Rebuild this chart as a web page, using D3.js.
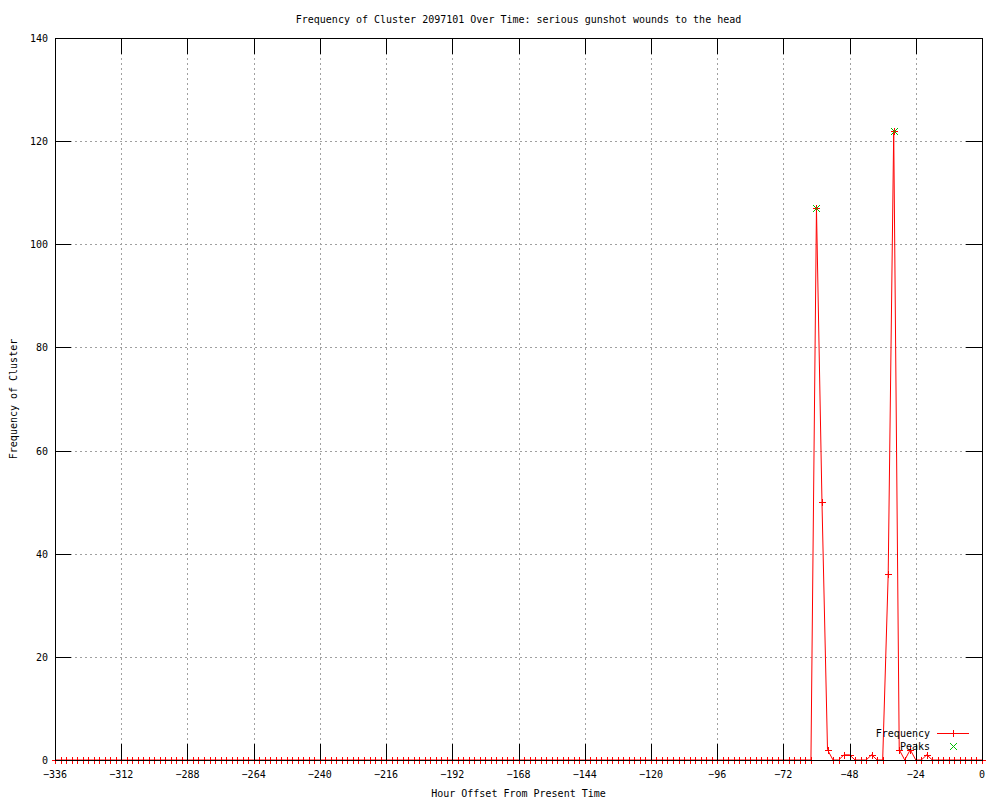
<!DOCTYPE html>
<html>
<head>
<meta charset="utf-8">
<script src="https://cdn.jsdelivr.net/npm/d3@7"></script>
<style>
    body { margin: 0; background: #fff; }
    svg { display: block; }
    text { font-family: "DejaVu Sans Mono", "Liberation Mono", monospace; font-size: 10px; fill: #000; }
</style>
</head>
<body>
<div id="chart"></div>
<script>
// hourly offsets sampled every 2 hours
const hours = d3.range(-336, 1, 2);

// cluster frequency per sample, -336 .. 0
const freq = [
    0,0,0,0,0,0,0,0,0,0,0,0,0,0,0,0,0,0,0,0,
    0,0,0,0,0,0,0,0,0,0,0,0,0,0,0,0,0,0,0,0,
    0,0,0,0,0,0,0,0,0,0,0,0,0,0,0,0,0,0,0,0,
    0,0,0,0,0,0,0,0,0,0,0,0,0,0,0,0,0,0,0,0,
    0,0,0,0,0,0,0,0,0,0,0,0,0,0,0,0,0,0,0,0,
    0,0,0,0,0,0,0,0,0,0,0,0,0,0,0,0,0,0,0,0,
    0,0,0,0,0,0,0,0,0,0,0,0,0,0,0,0,0,
    0,107,50,2,0,0,1,1,0,0,0,1,0,0,36,122,2,0,2,0,0,1,
    0,0,0,0,0,0,0,0,0,0
];

const peakHours = [-60, -32];
const peakValues = [107, 122];

const xTicks = d3.range(-336, 1, 24);
const yTicks = [0, 20, 40, 60, 80, 100, 120, 140];

const RED = '#ff0000';
const GREEN = '#00c000';

const width = 1000, height = 800;
const margin = { left: 55, right: 18, top: 38, bottom: 40 };
const tickLen = 16;

const svg = d3.select('#chart').append('svg')
    .attr('width', width)
    .attr('height', height);

const x = d3.scaleLinear().domain([-336, 0]).range([margin.left, width - margin.right]);
const y = d3.scaleLinear().domain([0, 140]).range([height - margin.bottom, margin.top]);

const [x0, x1] = x.range();
const [y0, y1] = y.range();

// grid
const grid = svg.append('g')
    .attr('shape-rendering', 'crispEdges');

grid.selectAll('line.gx')
    .data(xTicks.slice(1, -1))
    .enter().append('line')
    .attr('stroke', '#a0a0a0')
    .attr('stroke-dasharray', '2,3')
    .attr('x1', d => Math.round(x(d)) + 0.5).attr('x2', d => Math.round(x(d)) + 0.5)
    .attr('y1', y1).attr('y2', y0);

grid.selectAll('line.gy')
    .data(yTicks.slice(1, -1))
    .enter().append('line')
    .attr('stroke', '#a0a0a0')
    .attr('stroke-dasharray', '2,3')
    .attr('x1', x0).attr('x2', x1)
    .attr('y1', d => Math.round(y(d)) + 0.5).attr('y2', d => Math.round(y(d)) + 0.5);

// frequency line and + markers
const points = hours.map((h, i) => [h, freq[i]]);

svg.append('path')
    .datum(points)
    .attr('fill', 'none')
    .attr('stroke', RED)
    .attr('stroke-width', 1)
    .attr('d', d3.line().x(d => x(d[0])).y(d => y(d[1])));

function plus(g, cx, cy, r, color) {
    g.append('path')
        .attr('fill', 'none')
        .attr('stroke', color)
        .attr('shape-rendering', 'crispEdges')
        .attr('d', `M${cx - r},${cy}H${cx + r}M${cx},${cy - r}V${cy + r}`);
}
function cross(g, cx, cy, r, color) {
    g.append('path')
        .attr('fill', 'none')
        .attr('stroke', color)
        .attr('d', `M${cx - r},${cy - r}L${cx + r},${cy + r}M${cx - r},${cy + r}L${cx + r},${cy - r}`);
}

const marks = svg.append('g');
points.forEach(d => plus(marks, Math.round(x(d[0])) + 0.5, Math.round(y(d[1])) + 0.5, 3.5, RED));

// border and ticks
const axes = svg.append('g')
    .attr('shape-rendering', 'crispEdges');

axes.append('rect')
    .attr('x', x0 + 0.5).attr('y', y1 + 0.5)
    .attr('width', x1 - x0).attr('height', y0 - y1)
    .attr('stroke', '#000')
    .attr('fill', 'none');

xTicks.forEach(t => {
    const px = Math.round(x(t)) + 0.5;
    axes.append('line').attr('stroke', '#000').attr('x1', px).attr('x2', px).attr('y1', y0).attr('y2', y0 - tickLen);
    axes.append('line').attr('stroke', '#000').attr('x1', px).attr('x2', px).attr('y1', y1).attr('y2', y1 + tickLen);
});
yTicks.forEach(t => {
    const py = Math.round(y(t)) + 0.5;
    axes.append('line').attr('stroke', '#000').attr('x1', x0).attr('x2', x0 + tickLen).attr('y1', py).attr('y2', py);
    axes.append('line').attr('stroke', '#000').attr('x1', x1).attr('x2', x1 - tickLen).attr('y1', py).attr('y2', py);
});

// peaks
const peakG = svg.append('g');
peakHours.forEach((h, i) => cross(peakG, Math.round(x(h)) + 0.5, Math.round(y(peakValues[i])) + 0.5, 3.5, GREEN));

// tick labels
svg.append('g').selectAll('text')
    .data(xTicks)
    .enter().append('text')
    .attr('x', d => x(d))
    .attr('y', y0 + 18)
    .attr('text-anchor', 'middle')
    .text(d => d === 0 ? '0' : '\u2212' + Math.abs(d));

svg.append('g').selectAll('text')
    .data(yTicks)
    .enter().append('text')
    .attr('x', x0 - 7)
    .attr('y', d => y(d) + 4)
    .attr('text-anchor', 'end')
    .text(d => d);

// titles
svg.append('text')
    .attr('x', (x0 + x1) / 2)
    .attr('y', 23)
    .attr('text-anchor', 'middle')
    .text('Frequency of Cluster 2097101 Over Time: serious gunshot wounds to the head');

svg.append('text')
    .attr('x', (x0 + x1) / 2)
    .attr('y', 797)
    .attr('text-anchor', 'middle')
    .text('Hour Offset From Present Time');

svg.append('text')
    .attr('transform', `translate(17,${(y0 + y1) / 2}) rotate(-90)`)
    .attr('text-anchor', 'middle')
    .text('Frequency of Cluster');

// legend
const legend = svg.append('g');
legend.append('text').attr('x', 930).attr('y', 737).attr('text-anchor', 'end').text('Frequency');
legend.append('text').attr('x', 930).attr('y', 750).attr('text-anchor', 'end').text('Peaks');
legend.append('line')
    .attr('x1', 937).attr('x2', 969).attr('y1', 733.5).attr('y2', 733.5)
    .attr('shape-rendering', 'crispEdges')
    .attr('stroke', RED);
plus(legend, 953.5, 733.5, 3.5, RED);
cross(legend, 953.5, 746.5, 3.5, GREEN);
</script>
</body>
</html>
